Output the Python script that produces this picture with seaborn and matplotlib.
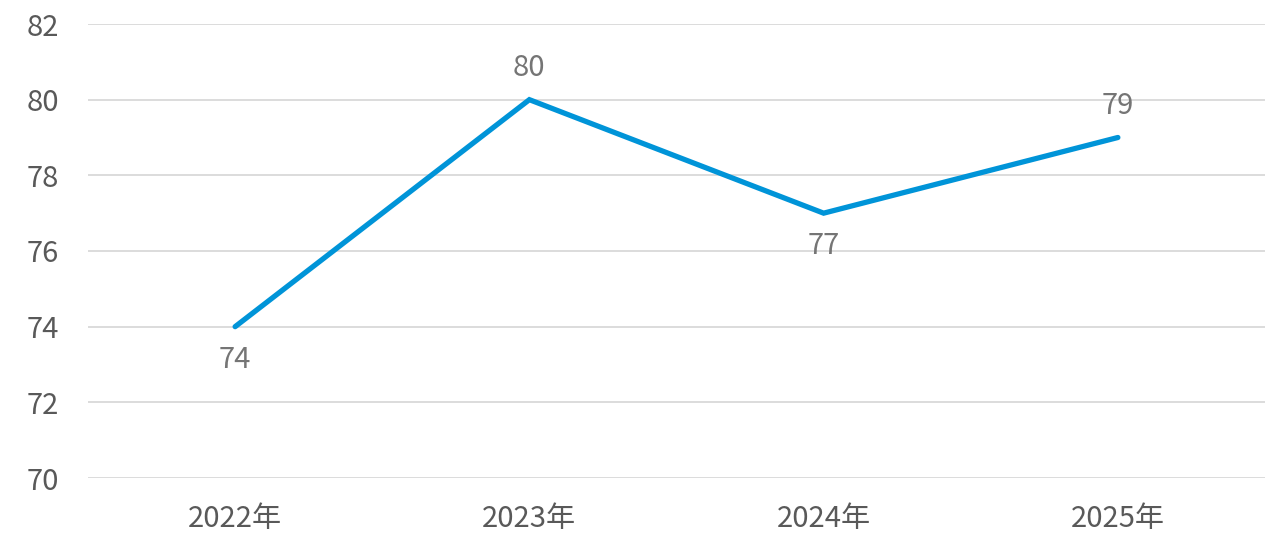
import matplotlib
matplotlib.use("Agg")
import matplotlib.pyplot as plt
import seaborn as sns
import pandas as pd

categories = ["2022年", "2023年", "2024年", "2025年"]
values = [74, 80, 77, 79]
label_pos = ["below", "above", "below", "above"]
yticks = [70, 72, 74, 76, 78, 80, 82]

sns.set_theme(style="white")
plt.rcParams['font.family'] = ['Noto Sans CJK SC', 'DejaVu Sans']

df = pd.DataFrame({"year": categories, "value": values})

fig = plt.figure(figsize=(12.87, 5.37), dpi=100)
ax = fig.add_axes([88/1287, 1-478/537, (1265-88)/1287, (478-24)/537])

sns.lineplot(data=df, x="year", y="value", ax=ax, color="#0094D8",
             linewidth=3.8, sort=False, solid_capstyle="round", solid_joinstyle="miter")

ax.set_xlim(-0.5, len(categories) - 0.5)
ax.set_ylim(70, 82)
ax.set_yticks(yticks)
ax.set_yticklabels([str(t) for t in yticks])
ax.grid(axis="y", color="#D9D9D9", linewidth=1.3)
ax.set_axisbelow(True)
for s in ax.spines.values():
    s.set_visible(False)
ax.set_xlabel("")
ax.set_ylabel("")
ax.tick_params(axis="both", length=0, labelsize=21, labelcolor="#595959")
ax.tick_params(axis="y", pad=21)
ax.tick_params(axis="x", pad=19)

for i, (v, p) in enumerate(zip(values, label_pos)):
    off = 23 if p == "above" else -24
    ax.annotate(str(v), (i, v), xytext=(0, off), textcoords="offset points",
                ha="center", va="center", fontsize=21, color="#757575",
                fontweight="light")

fig.savefig("out.png", dpi=100, facecolor="white")
